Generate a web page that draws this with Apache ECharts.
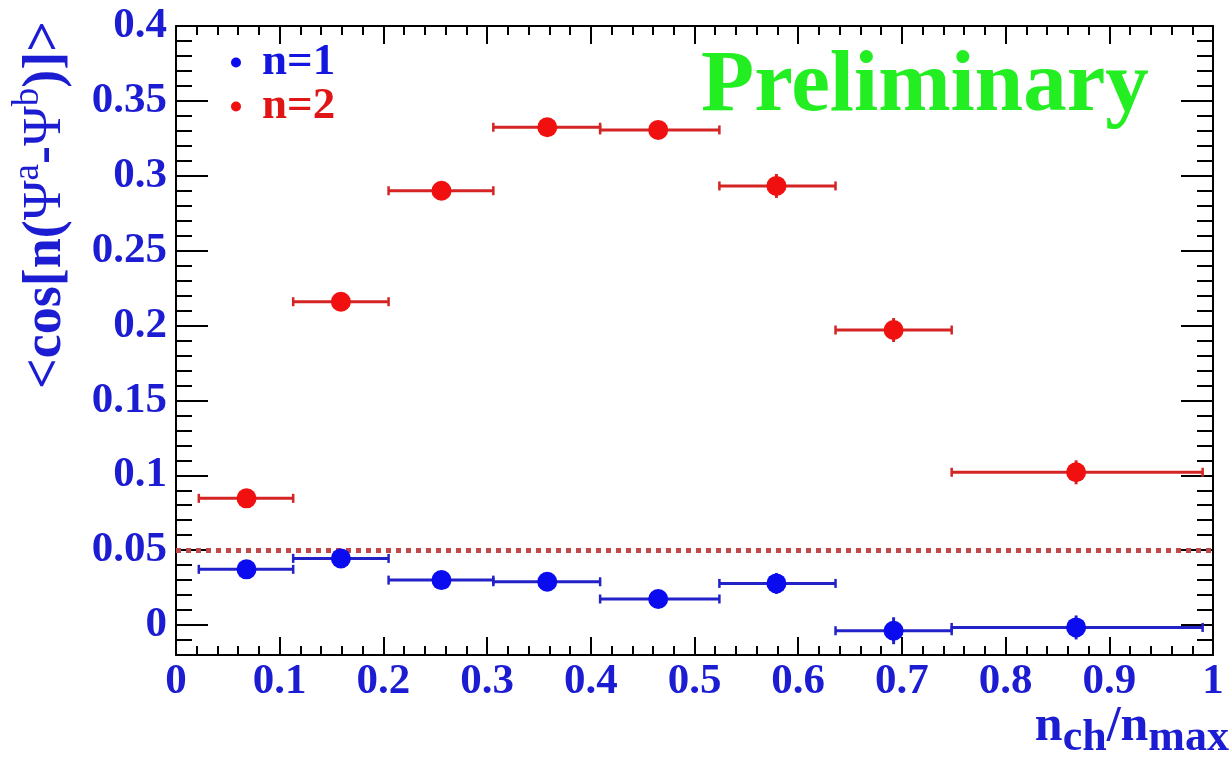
<!DOCTYPE html>
<html><head><meta charset="utf-8">
<script src="https://cdn.jsdelivr.net/npm/echarts@6/dist/echarts.min.js"></script>
<style>html,body{margin:0;padding:0;background:#fff;} #c{width:1232px;height:760px;}</style>
</head><body><div id="c"></div>
<script>
// ---- data ----
const binLow   = [0.022, 0.113, 0.205, 0.306, 0.409, 0.524, 0.636, 0.748];
const binHigh  = [0.113, 0.205, 0.306, 0.409, 0.524, 0.636, 0.748, 0.990];
const xCenter  = [0.068, 0.159, 0.256, 0.358, 0.465, 0.579, 0.692, 0.868];
const n1Values = [0.0372, 0.0445, 0.0300, 0.0289, 0.0174, 0.0278, -0.0038, -0.0016];
const n1Errors = [0.003, 0.003, 0.004, 0.005, 0.006, 0.007, 0.009, 0.008];
const n2Values = [0.0846, 0.2159, 0.2900, 0.3324, 0.3306, 0.2932, 0.1970, 0.1020];
const n2Errors = [0.003, 0.003, 0.004, 0.005, 0.006, 0.008, 0.008, 0.008];
const refLevel = 0.05;
const seriesNames = ['n=1', 'n=2'];
const xRange = [0, 1];
const yRange = [-0.02, 0.4];

const serif = '"Liberation Serif","DejaVu Serif",serif';
const labelBlue = '#1c1cd2';
const blue = '#0b0bef', blueLine = '#2222c8';
const red = '#f01010', redLine = '#d42424';

function errSeries(name, color, lineColor, vals, errs) {
  return {
    type: 'custom', name: name,
    itemStyle: { color: color },
    data: xCenter.map((x, i) => [x, vals[i], binLow[i], binHigh[i], errs[i]]),
    encode: { x: 0, y: 1 },
    renderItem: function (params, api) {
      const x = api.value(0), y = api.value(1), xl = api.value(2), xh = api.value(3), ye = api.value(4);
      const p = api.coord([x, y]);
      const pl = api.coord([xl, y]);
      const ph = api.coord([xh, y]);
      const pt = api.coord([x, y + ye]);
      const pb = api.coord([x, y - ye]);
      const cap = 4.5;
      return { type: 'group', children: [
        { type: 'line', shape: { x1: pl[0], y1: pl[1], x2: ph[0], y2: ph[1] }, style: { stroke: lineColor, lineWidth: 3 } },
        { type: 'line', shape: { x1: pl[0], y1: pl[1] - cap, x2: pl[0], y2: pl[1] + cap }, style: { stroke: lineColor, lineWidth: 2.5 } },
        { type: 'line', shape: { x1: ph[0], y1: ph[1] - cap, x2: ph[0], y2: ph[1] + cap }, style: { stroke: lineColor, lineWidth: 2.5 } },
        { type: 'line', shape: { x1: pt[0], y1: pt[1], x2: pb[0], y2: pb[1] }, style: { stroke: lineColor, lineWidth: 3 } },
        { type: 'circle', shape: { cx: p[0], cy: p[1], r: 10 }, style: { fill: color } }
      ]};
    }
  };
}

const tickStyle = { color: '#000', width: 2 };
function xAx(pos, showLabel) {
  return {
    type: 'value', min: xRange[0], max: xRange[1], interval: 0.1, position: pos,
    axisLine: { show: true, onZero: false, lineStyle: { color: '#000', width: 2 } },
    axisTick: { show: true, inside: true, length: 18, lineStyle: tickStyle },
    minorTick: { show: true, splitNumber: 5, length: 9, lineStyle: tickStyle },
    splitLine: { show: false }, minorSplitLine: { show: false },
    axisLabel: { show: showLabel, color: labelBlue, fontFamily: serif, fontWeight: 'bold', fontSize: 43, margin: 5 }
  };
}
function yAx(pos, showLabel) {
  return {
    type: 'value', min: yRange[0], max: yRange[1], splitNumber: 8, minInterval: 0.05, maxInterval: 0.05, position: pos,
    axisLine: { show: true, onZero: false, lineStyle: { color: '#000', width: 2 } },
    axisTick: { show: true, inside: true, length: 32, lineStyle: tickStyle },
    minorTick: { show: true, splitNumber: 5, length: 16, lineStyle: tickStyle },
    splitLine: { show: false }, minorSplitLine: { show: false },
    axisLabel: { show: showLabel, showMinLabel: false, color: labelBlue, fontFamily: serif, fontWeight: 'bold', fontSize: 43, margin: 9,
      formatter: v => (v < -0.001 ? '' : String(+v.toFixed(3))) }
  };
}

const s1 = errSeries(seriesNames[0], blue, blueLine, n1Values, n1Errors);
const s2 = errSeries(seriesNames[1], red, redLine, n2Values, n2Errors);
s1.z = 3; s2.z = 3;
s2.markLine = {
  silent: true, symbol: ['none', 'none'], label: { show: false },
  lineStyle: { color: '#c04848', width: 5, type: [5, 5], cap: 'butt' },
  data: [{ yAxis: refLevel }], z: 1
};

const chart = echarts.init(document.getElementById('c'), null, { renderer: 'canvas' });
chart.setOption({
  animation: false,
  backgroundColor: '#fff',
  grid: { left: 176, right: 19, top: 26, bottom: 105, containLabel: false, outerBoundsMode: 'none' },
  xAxis: [xAx('bottom', true), xAx('top', false)],
  yAxis: [yAx('left', true), yAx('right', false)],
  legend: {
    orient: 'vertical', left: 226, top: 35, itemGap: -1, itemWidth: 42, itemHeight: 10, icon: 'circle',
    selectedMode: false,
    textStyle: { fontFamily: serif, fontWeight: 'bold', fontSize: 45, lineHeight: 40 },
    data: [
      { name: seriesNames[0], textStyle: { color: '#1515e0' } },
      { name: seriesNames[1], textStyle: { color: '#e01515' } }
    ]
  },
  graphic: [
    { type: 'text', x: 701, y: 88, z: 10,
      style: { text: 'Preliminary', fill: '#22ee22', font: 'bold 87px "Liberation Serif", serif', verticalAlign: 'middle', align: 'left' } },
    { type: 'text', x: 46, y: 21, rotation: Math.PI / 2, z: 10,
      style: {
        text: '{m|<cos[n(}{g|Ψ}{s|a}{m|-}{g|Ψ}{s|b}{m|)]>}', align: 'right', verticalAlign: 'middle', fill: labelBlue,
        rich: {
          m: { fontFamily: serif, fontWeight: 'bold', fontSize: 54, fill: labelBlue, verticalAlign: 'middle' },
          g: { fontFamily: serif, fontWeight: 'normal', fontSize: 54, fill: labelBlue, verticalAlign: 'middle' },
          s: { fontFamily: serif, fontWeight: 'normal', fontSize: 37, fill: labelBlue, verticalAlign: 'middle', padding: [0, 0, 35, 0] }
        }
      } },
    { type: 'text', x: 1229, y: 727, z: 10,
      style: {
        text: '{m|n}{s|ch}{m|/n}{s|max}', align: 'right', verticalAlign: 'middle', fill: labelBlue,
        rich: {
          m: { fontFamily: serif, fontWeight: 'bold', fontSize: 50, fill: labelBlue, verticalAlign: 'middle' },
          s: { fontFamily: serif, fontWeight: 'bold', fontSize: 44, fill: labelBlue, verticalAlign: 'middle', padding: [24, 0, 0, 0] }
        }
      } }
  ],
  series: [s1, s2]
});
</script>
</body></html>
